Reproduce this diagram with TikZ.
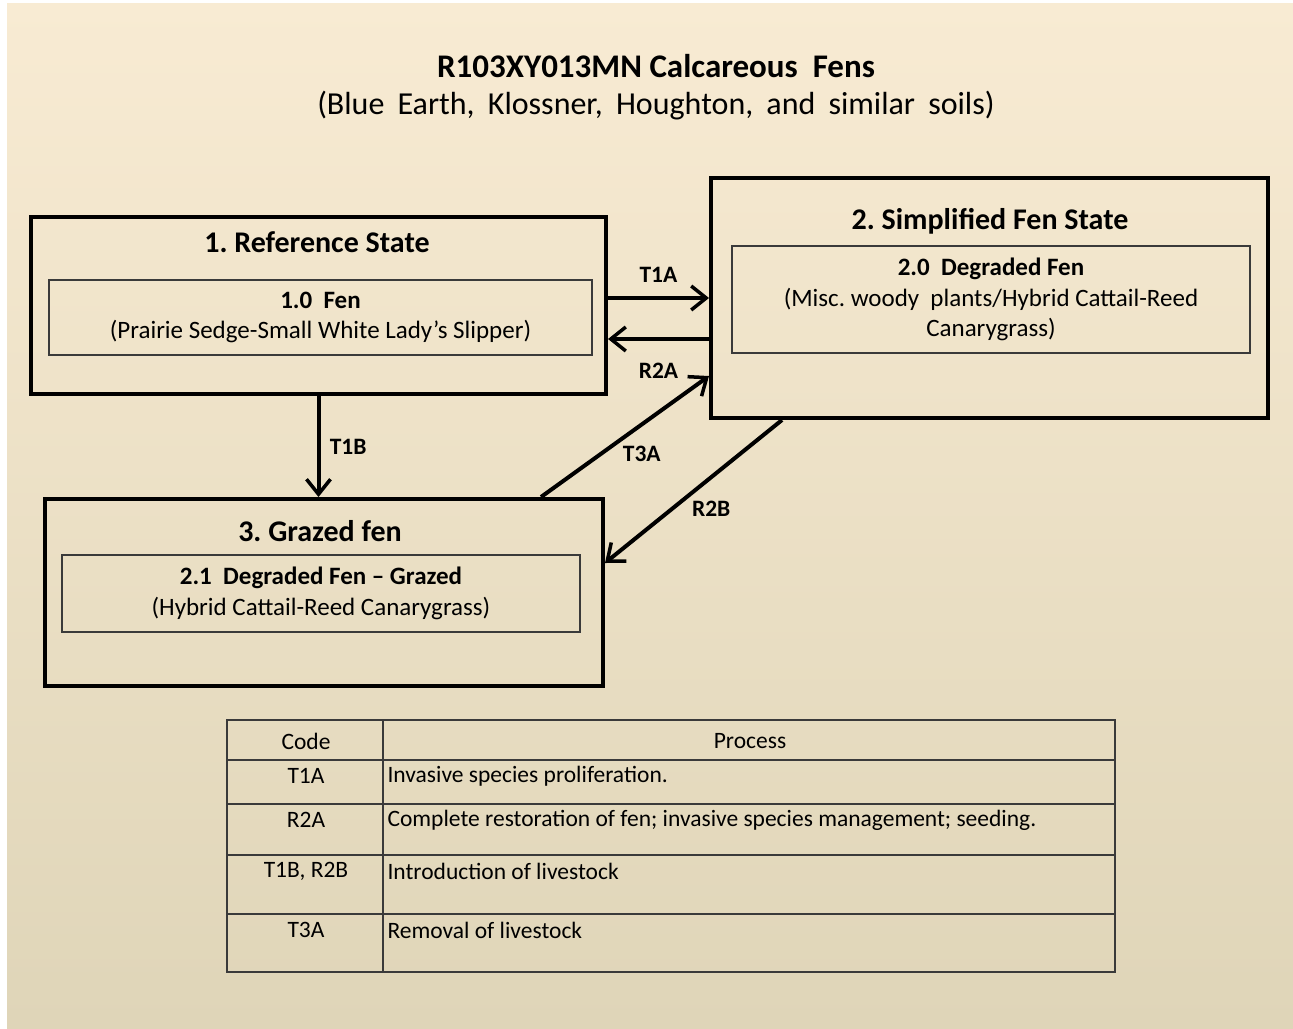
\documentclass[tikz,border=0pt]{standalone}
\usepackage{fontspec}
\setmainfont{Carlito}
\usetikzlibrary{arrows.meta,positioning}
\definecolor{bgtop}{HTML}{F8EBD3}
\definecolor{bgbot}{HTML}{DFD5B8}
\definecolor{rulegray}{HTML}{3A3A3A}
\frenchspacing
\begin{document}
\begin{tikzpicture}[x=1pt,y=-1pt,
        state/.style={draw,line width=4pt,inner sep=0pt},
        phase/.style={draw=rulegray,line width=1.5pt,inner sep=0pt,align=center,font=\fontsize{25}{30.5}\selectfont},
        head/.style={font=\fontsize{30}{34}\selectfont\bfseries},
        arr/.style={line width=4pt,-{Straight Barb[length=15pt,width=24pt,line width=3.5pt]}},
        lbl/.style={font=\fontsize{23.5}{26}\selectfont\bfseries},
        grid/.style={draw=rulegray,line width=1.8pt},
        cell/.style={font=\fontsize{23.5}{26}\selectfont}]
        \useasboundingbox (0,0) rectangle (1293,1028);
        \fill[white] (0,0) rectangle (1293,1028);
        \shade[top color=bgtop,bottom color=bgbot] (7,3) rectangle (1293,1028);
        % title
        \node[font=\fontsize{33}{38}\selectfont\bfseries] (title) at (656,66) {R103XY013MN Calcareous\ \ Fens};
        \node[font=\fontsize{32}{36}\selectfont,text width=720pt,align=center] (soils) at (656,106)
                {\spaceskip=12.5pt plus 2pt (Blue Earth, Klossner, Houghton, and similar soils)};
        % states
        \node[state,minimum width=575pt,minimum height=177pt] (ref) at (318.5,305.5) {};
        \node[head] (refname) at (317,242) {1. Reference State};
        \node[phase,minimum width=543pt,minimum height=75pt] (fen) at (320.5,317.5)
                {\textbf{1.0\ \ Fen}\\(Prairie Sedge-Small White Lady’s Slipper)};
        \node[state,minimum width=557pt,minimum height=240pt] (simp) at (989.5,298) {};
        \node[head] (simpname) at (990,221) {2. Simplified Fen State};
        \node[phase,minimum width=518pt,minimum height=107pt] (degr) at (991,299.5)
                {\textbf{2.0\ \ Degraded Fen}\\(Misc. woody\ \ plants/Hybrid Cattail-Reed\\Canarygrass)};
        \node[state,minimum width=558pt,minimum height=187pt] (graz) at (324,592.5) {};
        \node[head] (grazname) at (320,531) {3. Grazed fen};
        \node[phase,minimum width=518pt,minimum height=77pt] (degrgr) at (321,593.5)
                {\textbf{2.1\ \ Degraded Fen -- Grazed}\\(Hybrid Cattail-Reed Canarygrass)};
        % transitions
        \draw[arr] (ref.east |- 0,298) -- (simp.west |- 0,298) node[lbl,midway,above=10pt] (t1a) {T1A};
        \draw[arr] (simp.west |- 0,339) -- (ref.east |- 0,339) node[lbl,midway,below=19pt] (r2a) {R2A};
        \draw[arr] (ref.south) -- (ref.south |- graz.north) node[lbl,midway,right=6pt] (t1b) {T1B};
        \draw[arr] (541,0 |- graz.north) -- (simp.west |- 0,376) node[lbl,pos=0.6,below=16pt] (t3a) {T3A};
        \draw[arr] (782,0 |- simp.south) -- (graz.east |- 0,563) node[lbl,pos=0.4,below=19pt] (r2b) {R2B};
        % table
        \draw[grid] (227,720) rectangle (1115,972);
        \foreach \y in {760,804,855,914} \draw[grid] (227,\y) -- (1115,\y);
        \draw[grid] (383,720) -- (383,972);
        \node[cell] (codehead) at (306,741) {Code};
        \node[cell] (prochead) at (750,741) {Process};
        \foreach \y/\code/\proc in {776/T1A/Invasive species proliferation.,
                820/R2A/{Complete restoration of fen; invasive species management; seeding.},
                871/{T1B, R2B}/Introduction of livestock,
                930/T3A/Removal of livestock}{
                \node[cell] (code\y) at (306,\y) {\code};
                \node[cell,anchor=west] (proc\y) at (384,\y) {\proc};
        }
\end{tikzpicture}
\end{document}
